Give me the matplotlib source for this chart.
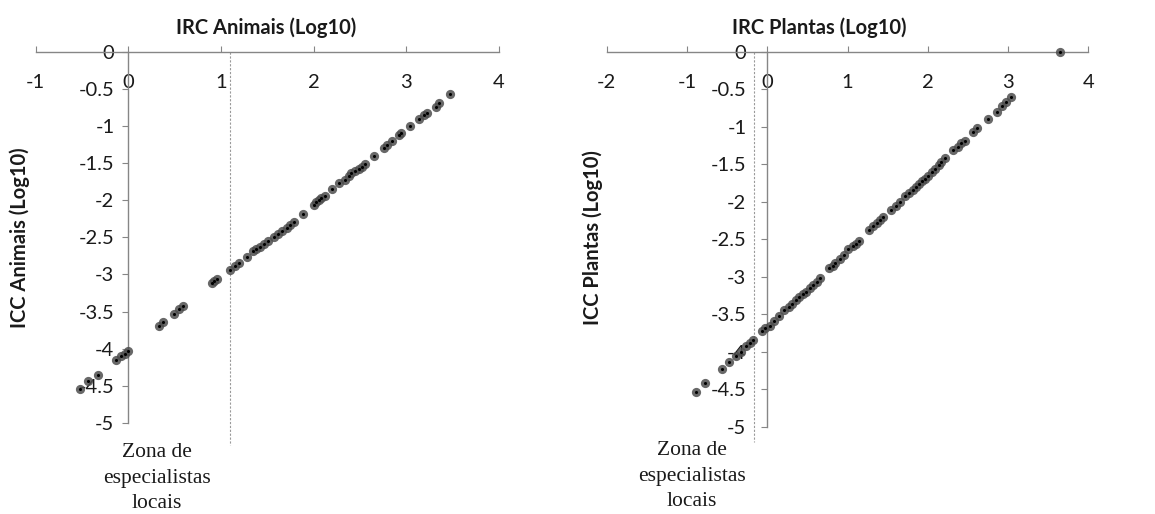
import numpy as np
from matplotlib import pyplot as plt

# IRC / ICC (log10) - animais
irc_animais = [-0.52, -0.43, -0.33, -0.13, -0.08, -0.04, 0.00, 0.33, 0.38, 0.49,
               0.55, 0.59, 0.90, 0.93, 0.96, 1.10, 1.15, 1.20, 1.28, 1.35,
               1.38, 1.42, 1.46, 1.51, 1.57, 1.62, 1.66, 1.71, 1.75, 1.79,
               1.89, 2.01, 2.03, 2.06, 2.08, 2.12, 2.20, 2.28, 2.34, 2.38,
               2.41, 2.45, 2.49, 2.52, 2.56, 2.65, 2.76, 2.79, 2.85, 2.92,
               2.95, 3.04, 3.14, 3.19, 3.23, 3.32, 3.35, 3.47]
icc_animais = [-4.54, -4.44, -4.35, -4.15, -4.10, -4.07, -4.03, -3.70, -3.64, -3.53,
               -3.47, -3.43, -3.12, -3.09, -3.06, -2.94, -2.89, -2.85, -2.76, -2.69,
               -2.66, -2.63, -2.59, -2.55, -2.50, -2.45, -2.41, -2.37, -2.33, -2.29,
               -2.18, -2.06, -2.03, -2.00, -1.97, -1.94, -1.85, -1.77, -1.73, -1.68,
               -1.64, -1.61, -1.58, -1.55, -1.51, -1.40, -1.29, -1.26, -1.20, -1.12,
               -1.10, -1.00, -0.91, -0.85, -0.82, -0.74, -0.69, -0.57]

# IRC / ICC (log10) - plantas
irc_plantas = [-0.89, -0.78, -0.57, -0.48, -0.39, -0.33, -0.27, -0.22, -0.18, -0.07,
               -0.03, 0.03, 0.08, 0.14, 0.21, 0.27, 0.31, 0.36, 0.40, 0.44,
               0.48, 0.53, 0.57, 0.62, 0.66, 0.77, 0.82, 0.85, 0.90, 0.96,
               1.01, 1.07, 1.11, 1.14, 1.27, 1.32, 1.37, 1.41, 1.44, 1.54,
               1.60, 1.65, 1.71, 1.76, 1.82, 1.85, 1.89, 1.93, 1.96, 2.00,
               2.05, 2.09, 2.14, 2.17, 2.22, 2.32, 2.37, 2.41, 2.46, 2.56,
               2.61, 2.75, 2.86, 2.93, 2.98, 3.04, 3.65]
icc_plantas = [-4.54, -4.42, -4.23, -4.14, -4.06, -4.00, -3.93, -3.88, -3.84, -3.72,
               -3.69, -3.66, -3.59, -3.52, -3.45, -3.40, -3.36, -3.31, -3.27, -3.23,
               -3.20, -3.15, -3.11, -3.07, -3.02, -2.89, -2.86, -2.82, -2.77, -2.71,
               -2.63, -2.59, -2.56, -2.52, -2.38, -2.33, -2.29, -2.24, -2.20, -2.11,
               -2.06, -2.01, -1.93, -1.89, -1.84, -1.81, -1.76, -1.73, -1.70, -1.66,
               -1.60, -1.56, -1.51, -1.47, -1.42, -1.31, -1.27, -1.22, -1.19, -1.07,
               -1.02, -0.90, -0.80, -0.72, -0.67, -0.61, 0.00]

x_ticks_animais = [-1, 0, 1, 2, 3, 4]
x_ticks_plantas = [-2, -1, 0, 1, 2, 3, 4]
y_ticks = [0, -0.5, -1, -1.5, -2, -2.5, -3, -3.5, -4, -4.5, -5]

limite_animais = 1.10
limite_plantas = -0.16

plt.rcParams['font.family'] = ['Lato', 'DejaVu Sans']

AXIS_GRAY = '#868686'
TEXT = '#1a1a1a'


def style_axis(ax, x_ticks, y_pad):
    ax.set_xlim(x_ticks[0], x_ticks[-1])
    ax.set_ylim(-5, 0)
    ax.spines['top'].set_visible(False)
    ax.spines['right'].set_visible(False)
    ax.spines['bottom'].set_position(('data', 0))
    ax.spines['left'].set_position(('data', 0))
    for s in ['bottom', 'left']:
        ax.spines[s].set_color(AXIS_GRAY)
        ax.spines[s].set_linewidth(1.0)
    ax.set_xticks(x_ticks)
    ax.set_xticklabels([str(t) for t in x_ticks])
    ax.set_yticks(y_ticks)
    ax.set_yticklabels([f'{t:g}' for t in y_ticks])
    ax.tick_params(axis='x', direction='in', length=4, color=AXIS_GRAY,
                   pad=16, labelsize=14.5, labelcolor=TEXT)
    ax.tick_params(axis='y', direction='out', length=4, color=AXIS_GRAY,
                   pad=y_pad, labelsize=14.5, labelcolor=TEXT)
    ax.patch.set_alpha(0)


def draw_points(ax, xs, ys):
    ax.scatter(xs, ys, s=44, color='#4d4d4d', alpha=0.85, linewidths=0,
               zorder=3, clip_on=False)
    ax.scatter(xs, ys, s=5, color='black', linewidths=0, zorder=4, clip_on=False)


fig = plt.figure(figsize=(11.55, 5.14), dpi=100)

ax1 = fig.add_axes([0.0309, 0.177, 0.4009, 0.7224])
style_axis(ax1, x_ticks_animais, 6)
ax1.plot([limite_animais, limite_animais], [0, -5.3], color='#9a9a9a', lw=0.8,
         ls=(0, (2, 1.5)), clip_on=False, zorder=2)
draw_points(ax1, irc_animais, icc_animais)

ax2 = fig.add_axes([0.5253, 0.1698, 0.417, 0.7296])
style_axis(ax2, x_ticks_plantas, 11)
ax2.plot([limite_plantas, limite_plantas], [0, -5.2], color='#9a9a9a', lw=0.8,
         ls=(0, (2, 1.5)), clip_on=False, zorder=2)
draw_points(ax2, irc_plantas, icc_plantas)

# axis titles
fig.text(0.2303, 0.9455, 'IRC Animais (Log10)', ha='center', va='center',
         fontsize=14.5, fontweight='bold', color=TEXT)
fig.text(0.709, 0.9455, 'IRC Plantas (Log10)', ha='center', va='center',
         fontsize=14.5, fontweight='bold', color=TEXT)
fig.text(0.0173, 0.537, 'ICC Animais (Log10)', ha='center', va='center',
         rotation=90, fontsize=14.5, fontweight='bold', color=TEXT)
fig.text(0.5134, 0.537, 'ICC Plantas (Log10)', ha='center', va='center',
         rotation=90, fontsize=14.5, fontweight='bold', color=TEXT)

# zone annotation
zona = 'Zona de\nespecialistas\nlocais'
fig.text(157 / 1155, 1 - 478 / 514, zona, ha='center', va='center',
         family='Liberation Serif', fontsize=15.5, linespacing=1.45, color=TEXT)
fig.text(691.7 / 1155, 1 - 476 / 514, zona, ha='center', va='center',
         family='Liberation Serif', fontsize=15.5, linespacing=1.45, color=TEXT)

fig.savefig('out.png', dpi=100)
